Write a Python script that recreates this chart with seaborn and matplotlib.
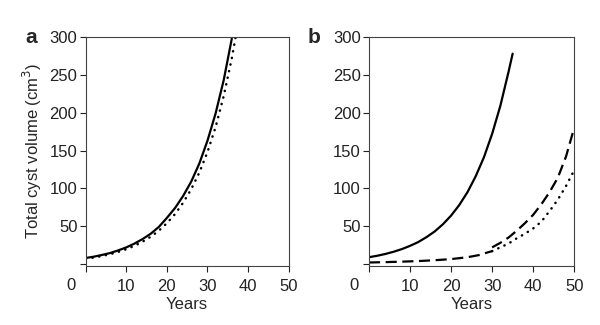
import matplotlib
matplotlib.use("Agg")
import matplotlib.pyplot as plt
import seaborn as sns

# panel a: two model curves
a_solid_x = [0, 2, 4, 6, 8, 10, 12, 14, 16, 18, 20, 22, 24, 26, 28, 30, 32, 34, 36]
a_solid_y = [8, 9.7, 12, 14.5, 18, 22, 27, 33, 40, 49, 61, 74, 90, 109, 133, 163, 199, 243, 298]
a_dot_x = [0, 2, 4, 6, 8, 10, 12, 14, 16, 18, 20, 22, 24, 26, 28, 30, 32, 34, 36, 37]
a_dot_y = [7, 8.6, 10.6, 13, 16, 19.6, 24, 29.5, 36, 44, 54, 66, 81, 99, 121, 148, 181, 222, 272, 302]

# panel b
b_solid_x = [0, 2, 4, 6, 8, 10, 12, 14, 16, 18, 20, 22, 24, 26, 28, 30, 32, 34, 35]
b_solid_y = [9, 10.9, 13.3, 16.2, 19.7, 24, 29, 35.5, 43, 52.5, 64, 78, 95, 116, 141, 172, 209, 254, 278]
b_early_x = [0, 4, 8, 12, 16, 20, 24, 27, 29, 30]
b_early_y = [2, 2.5, 3.1, 3.9, 5, 6.5, 9, 12, 15.5, 17]
b_dash_x = [30, 32, 34, 36, 38, 40, 42, 44, 46, 48, 50]
b_dash_y = [22, 28, 35, 44, 54, 65, 79, 95, 114, 142, 180]
b_dot_x = [30, 32, 34, 36, 38, 40, 42, 44, 46, 48, 50]
b_dot_y = [17, 22, 27, 34, 40, 47, 56, 70, 85, 103, 124]

xticks = [0, 10, 20, 30, 40, 50]
xticklabels = ["", "10", "20", "30", "40", "50"]
yticks = [0, 50, 100, 150, 200, 250, 300]
yticklabels = ["", "50", "100", "150", "200", "250", "300"]

sns.set_style("ticks")
plt.rcParams["font.family"] = ["Liberation Sans", "DejaVu Sans"]
plt.rcParams["font.size"] = 12

fig = plt.figure(figsize=(6, 3.25), dpi=100)
ax_a = fig.add_axes([0.143, 0.183, 0.338, 0.703])
ax_b = fig.add_axes([0.615, 0.183, 0.342, 0.703])

solid = dict(color="black", linewidth=1.6)
dotted = dict(color="black", linewidth=1.8, linestyle=(0, (0.1, 2.6)), dash_capstyle="round")
dashed = dict(color="black", linewidth=1.6, linestyle=(0, (5, 2.5)))

sns.lineplot(x=a_solid_x, y=a_solid_y, ax=ax_a, **solid)
sns.lineplot(x=a_dot_x, y=a_dot_y, ax=ax_a, **dotted)

sns.lineplot(x=b_solid_x, y=b_solid_y, ax=ax_b, **solid)
sns.lineplot(x=b_early_x, y=b_early_y, ax=ax_b, **dashed)
sns.lineplot(x=b_dash_x, y=b_dash_y, ax=ax_b, **dashed)
sns.lineplot(x=b_dot_x, y=b_dot_y, ax=ax_b, **dotted)

for ax, letter in [(ax_a, "a"), (ax_b, "b")]:
    ax.set_xlim(0, 50)
    ax.set_ylim(-2, 300)
    ax.set_xticks(xticks)
    ax.set_xticklabels(xticklabels)
    ax.set_yticks(yticks)
    ax.set_yticklabels(yticklabels)
    ax.tick_params(axis="y", length=4, width=0.8, labelsize=12, pad=2, colors="#222222")
    ax.tick_params(axis="x", length=4, width=0.8, labelsize=12, pad=6, colors="#222222")
    for s in ax.spines.values():
        s.set_linewidth(0.8)
        s.set_color("#444444")
    ax.set_xlabel("Years", fontsize=12, labelpad=2)
    ax.set_ylabel("")
    ax.text(-0.075, -0.055, "0", transform=ax.transAxes, ha="center", va="top", fontsize=12, color="#222222")
    ax.text(-0.27, 1.0, letter, transform=ax.transAxes, ha="center", va="center",
            fontsize=15, fontweight="bold")

ax_a.set_ylabel("Total cyst volume (cm$^3$)", fontsize=12, labelpad=4)

fig.savefig("out.png", dpi=100)
